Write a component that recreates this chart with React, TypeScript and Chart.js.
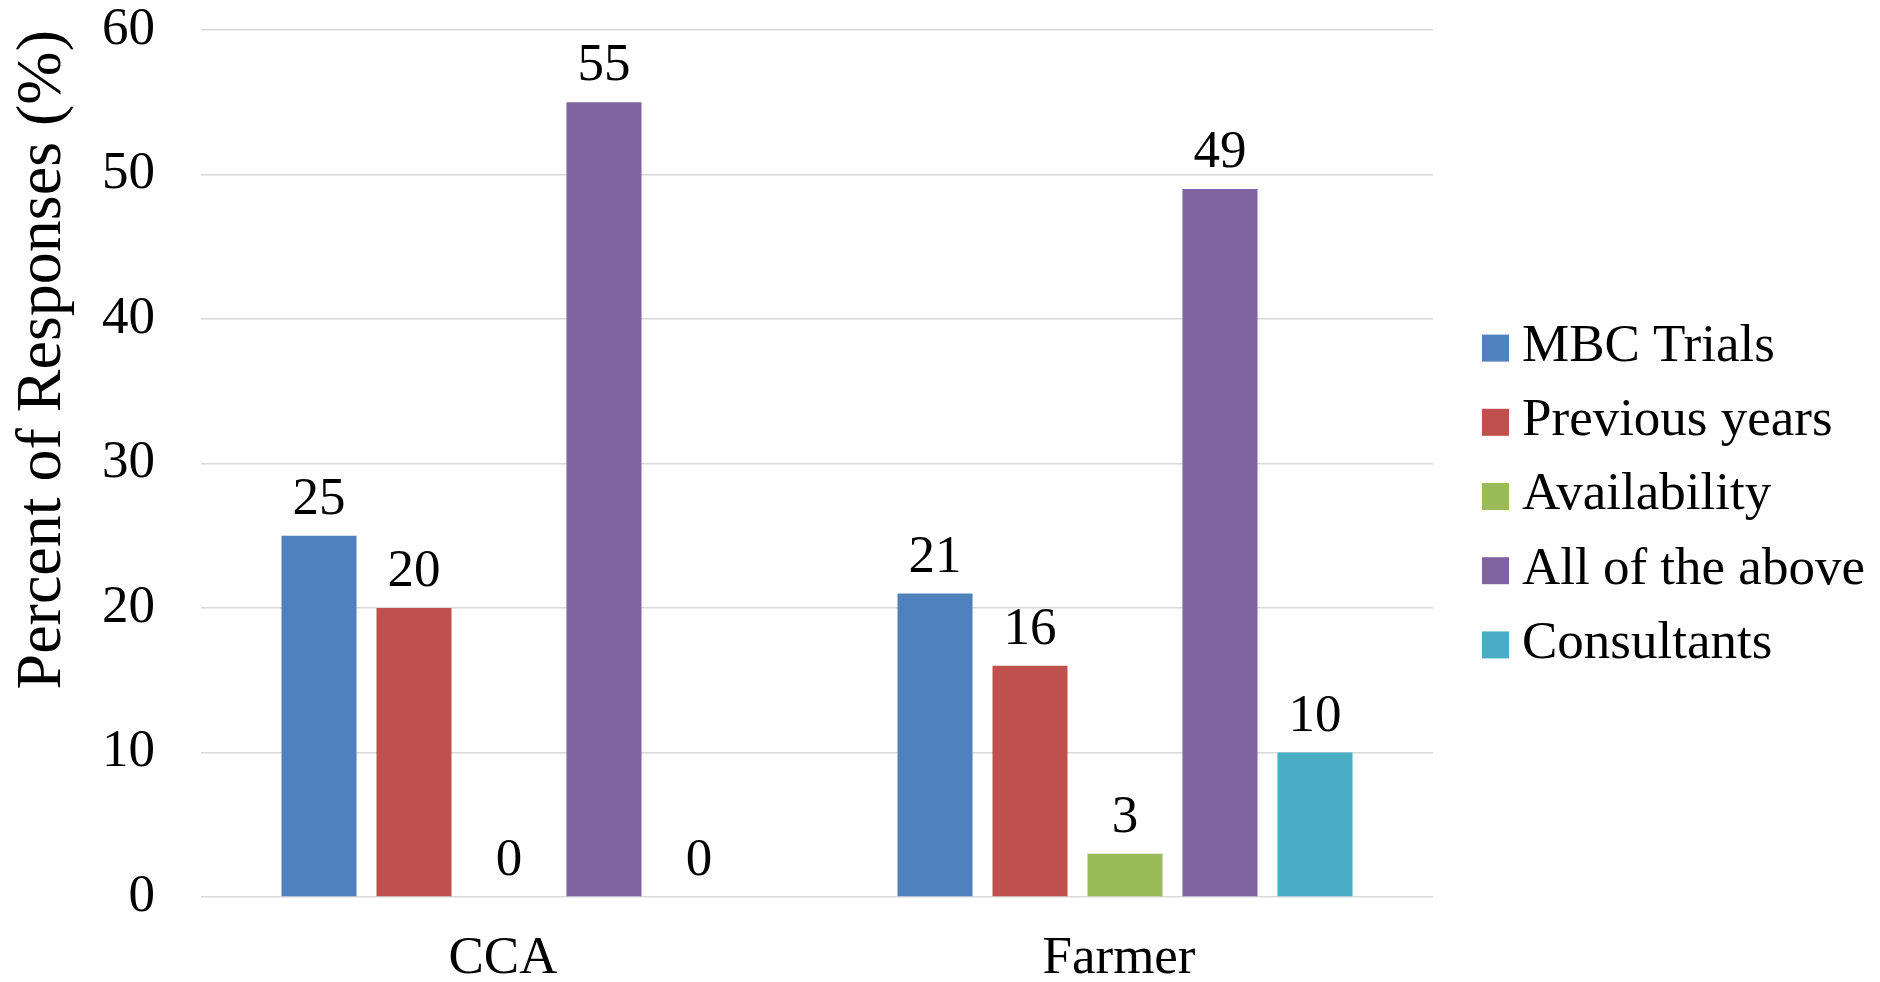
import React, { useEffect, useRef } from 'react';
import { Chart, registerables } from 'chart.js';

Chart.register(...registerables);

const categories = ['CCA', 'Farmer'];
const seriesNames = ['MBC Trials', 'Previous years', 'Availability', 'All of the above', 'Consultants'];
const mbcTrials = [25, 21];
const previousYears = [20, 16];
const availability = [0, 3];
const allOfTheAbove = [55, 49];
const consultants = [0, 10];
const seriesValues = [mbcTrials, previousYears, availability, allOfTheAbove, consultants];
const seriesColors = ['#4F81BD', '#C0504D', '#9BBB59', '#8064A2', '#4BACC6'];
const yMin = 0;
const yMax = 60;
const yStep = 10;
const yTitle = 'Percent of Responses (%)';

const FONT = '"Liberation Serif", "Times New Roman", Times, serif';

const valueLabels = {
  id: 'valueLabels',
  afterDatasetsDraw(chart: any) {
    const ctx = chart.ctx;
    ctx.save();
    ctx.font = `53px ${FONT}`;
    ctx.fillStyle = '#000';
    ctx.textAlign = 'center';
    ctx.textBaseline = 'alphabetic';
    chart.data.datasets.forEach((ds: any, i: number) => {
      const meta = chart.getDatasetMeta(i);
      meta.data.forEach((el: any, j: number) => {
        ctx.fillText(String(ds.data[j]), el.x, el.y - 22);
      });
    });
    ctx.restore();
  },
};

const sideLegend = {
  id: 'sideLegend',
  afterDraw(chart: any) {
    const ctx = chart.ctx;
    const boxX = chart.chartArea.right + 49;
    const box = 27;
    const rowGap = 74.2;
    const midY = chart.height / 2 + 5.5;
    const n = chart.data.datasets.length;
    ctx.save();
    ctx.font = `53px ${FONT}`;
    ctx.textAlign = 'left';
    ctx.textBaseline = 'middle';
    chart.data.datasets.forEach((ds: any, i: number) => {
      const cy = midY + (i - (n - 1) / 2) * rowGap;
      ctx.fillStyle = ds.backgroundColor;
      ctx.fillRect(boxX, cy - box / 2, box, box);
      ctx.fillStyle = '#000';
      ctx.fillText(ds.label, boxX + 40, cy - 1);
    });
    ctx.restore();
  },
};

export default function App() {
  const ref = useRef<HTMLCanvasElement | null>(null);

  useEffect(() => {
    if (!ref.current) return;
    const chart = new Chart(ref.current, {
      type: 'bar',
      data: {
        labels: categories,
        datasets: seriesNames.map((name, i) => ({
          label: name,
          data: seriesValues[i],
          backgroundColor: seriesColors[i],
          borderWidth: 0,
          categoryPercentage: 0.771,
          barPercentage: 0.79,
        })),
      },
      options: {
        animation: false,
        responsive: true,
        maintainAspectRatio: false,
        devicePixelRatio: 1,
        layout: { padding: { top: 30, right: 447, bottom: 0, left: 0 } },
        plugins: {
          legend: { display: false },
          tooltip: { enabled: false },
          title: { display: false },
        },
        scales: {
          x: {
            grid: { display: false, drawTicks: false },
            border: { display: false },
            ticks: {
              color: '#000',
              padding: 40,
              labelOffset: -6,
              font: { family: FONT, size: 53, lineHeight: 0.85 },
            },
            afterFit(scale: any) {
              scale.height = 85;
            },
          },
          y: {
            min: yMin,
            max: yMax,
            grid: { color: '#d9d9d9', lineWidth: 1.5, drawTicks: false },
            border: { display: false },
            ticks: {
              stepSize: yStep,
              color: '#000',
              padding: 46,
              font: { family: FONT, size: 53, lineHeight: 1.0 },
            },
            title: {
              display: true,
              text: yTitle,
              align: 'end',
              color: '#000',
              font: { family: FONT, size: 64, lineHeight: 1.2 },
              padding: { top: 5, bottom: 20 },
            },
            afterFit(scale: any) {
              scale.width = 201;
              scale.paddingTop = 0;
              scale.paddingBottom = 0;
            },
          },
        },
      },
      plugins: [valueLabels, sideLegend],
    } as any);
    return () => chart.destroy();
  }, []);

  return (
    <div style={{ position: 'absolute', left: 0, top: 0, width: 1880, height: 982, background: '#fff' }}>
      <canvas ref={ref} />
    </div>
  );
}
